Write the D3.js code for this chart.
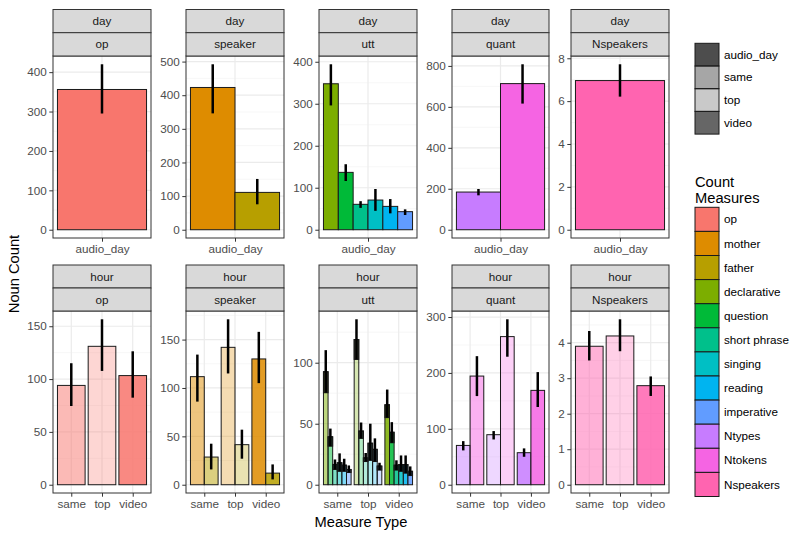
<!DOCTYPE html>
<html>
<head>
<meta charset="utf-8">
<script src="https://cdn.jsdelivr.net/npm/d3@7"></script>
<style>
  body { margin: 0; background: #fff; }
  text { font-family: "Liberation Sans", Arial, sans-serif; }
</style>
</head>
<body>
<svg id="chart" width="800" height="539"></svg>
<script>
// ---------------- DATA ----------------
const measures = ["op","mother","father","declarative","question","short phrase","singing","reading","imperative","Ntypes","Ntokens","Nspeakers"];
const measureColors = ["#F8766D","#DE8C00","#B79F00","#7CAE00","#00BA38","#00C08B","#00BFC4","#00B4F0","#619CFF","#C77CFF","#F564E3","#FF64B0"];
const typeLevels = ["audio_day","same","top","video"];
const typeAlpha = [1, 0.5, 0.3, 0.86];
const timescales = ["day","hour"];
const panelNames = ["op","speaker","utt","quant","Nspeakers"];
const panelMeasures = [["op"],["mother","father"],["declarative","question","short phrase","singing","reading","imperative"],["Ntypes","Ntokens"],["Nspeakers"]];
const dayTypes = ["audio_day"];
const hourTypes = ["same","top","video"];

// day row: [type][measure]
const dayOpMean = [[356]], dayOpLo = [[295]], dayOpHi = [[420]];
const daySpeakerMean = [[423,111]], daySpeakerLo = [[346,75.6]], daySpeakerHi = [[492,151]];
const dayUttMean = [[347.6,136.6,60.5,70.7,55.6,43]];
const dayUttLo = [[296,116,52,45,39,35]];
const dayUttHi = [[394,156,68,97,73,48.5]];
const dayQuantMean = [[184,713.6]], dayQuantLo = [[168,616]], dayQuantHi = [[199,808]];
const dayNspkMean = [[6.96]], dayNspkLo = [[6.21]], dayNspkHi = [[7.72]];

// hour row: [type: same, top, video][measure]
const hourOpMean = [[94],[131],[103.3]];
const hourOpLo = [[74.5],[107.7],[82.4]];
const hourOpHi = [[115],[156.6],[126.3]];
const hourSpeakerMean = [[111.7,28.6],[142,41.4],[130,12]];
const hourSpeakerLo = [[85.9,15.8],[115,26.9],[105,5.5]];
const hourSpeakerHi = [[134.5,42.4],[171,56.9],[158,21]];
const hourUttMean = [[92.6,39.3,16.6,18,16,12.5],[119,44,22,34,29,15.3],[65.5,43,16,16.5,16.5,11]];
const hourUttLo = [[75.4,31.6,12.5,11,11,10],[102.7,38,19,20,19,12],[55,34.4,12,11,9.5,7.5]];
const hourUttHi = [[110.3,46,20.7,25.7,21.3,15.8],[135.6,51,26,50,38,18],[78,51.3,20,24,24,15]];
const hourQuantMean = [[70.3,194.4],[89.5,265],[57.3,168.8]];
const hourQuantLo = [[61.4,158.6],[81,229],[50,139]];
const hourQuantHi = [[78,230],[96,296],[65,201.5]];
const hourNspkMean = [[3.9],[4.19],[2.79]];
const hourNspkLo = [[3.5],[3.76],[2.5]];
const hourNspkHi = [[4.33],[4.66],[3.05]];

// tick labels
const dayTicks = [[0,100,200,300,400],[0,100,200,300,400,500],[0,100,200,300,400],[0,200,400,600,800],[0,2,4,6,8]];
const hourTicks = [[0,50,100,150],[0,50,100,150],[0,50,100],[0,100,200,300],[0,1,2,3,4]];

const dayMeans = [dayOpMean, daySpeakerMean, dayUttMean, dayQuantMean, dayNspkMean];
const dayLos = [dayOpLo, daySpeakerLo, dayUttLo, dayQuantLo, dayNspkLo];
const dayHis = [dayOpHi, daySpeakerHi, dayUttHi, dayQuantHi, dayNspkHi];
const hourMeans = [hourOpMean, hourSpeakerMean, hourUttMean, hourQuantMean, hourNspkMean];
const hourLos = [hourOpLo, hourSpeakerLo, hourUttLo, hourQuantLo, hourNspkLo];
const hourHis = [hourOpHi, hourSpeakerHi, hourUttHi, hourQuantHi, hourNspkHi];

// ---------------- LAYOUT ----------------
const svg = d3.select("#chart");
svg.append("rect").attr("width",800).attr("height",539).attr("fill","#fff");

const colX = [[53,151],[186,284],[319,417],[452,549],[571,669]];
const rows = [
  {stripTop: 9.5, stripMid: 32.7, panelTop: 56, panelBottom: 238},
  {stripTop: 265, stripMid: 288, panelTop: 311, panelBottom: 493}
];
const colorScale = d3.scaleOrdinal().domain(measures).range(measureColors);
const alphaScale = d3.scaleOrdinal().domain(typeLevels).range(typeAlpha);
const FONT = '"Liberation Sans", Arial, sans-serif';

function drawPanel(rowIdx, colIdx, types, means, los, his, ticks, overlay) {
  const row = rows[rowIdx];
  const [x0, x1] = colX[colIdx];
  const ms = panelMeasures[colIdx];
  const g = svg.append("g");
  const n = types.length;
  const R = n - 0.1;
  const x = d3.scaleLinear().domain([0.55 - 0.05 * R, n + 0.45 + 0.05 * R]).range([x0, x1]);
  const maxHi = d3.max(his.flat());
  const y = d3.scaleLinear().domain([-0.05 * maxHi, 1.05 * maxHi]).range([row.panelBottom, row.panelTop]);
  const inner = d3.scaleBand().domain(ms).range([-0.45, 0.45]).padding(0);

  g.append("rect").attr("x", x0).attr("y", row.panelTop).attr("width", x1 - x0)
    .attr("height", row.panelBottom - row.panelTop).attr("fill", "#fff");

  // grid
  const step = ticks[1] - ticks[0];
  const minors = [];
  for (let v = ticks[0] - step / 2; v <= ticks[ticks.length - 1] + step / 2 + 1e-9; v += step) {
    if (v >= y.domain()[0] && v <= y.domain()[1]) minors.push(v);
  }
  g.selectAll(".minor").data(minors).join("line")
    .attr("x1", x0).attr("x2", x1).attr("y1", d => y(d)).attr("y2", d => y(d))
    .attr("stroke", "#F2F2F2").attr("stroke-width", 0.6);
  g.selectAll(".major").data(ticks).join("line")
    .attr("x1", x0).attr("x2", x1).attr("y1", d => y(d)).attr("y2", d => y(d))
    .attr("stroke", "#EBEBEB").attr("stroke-width", 1.2);
  g.selectAll(".vmajor").data(d3.range(1, n + 1)).join("line")
    .attr("x1", d => x(d)).attr("x2", d => x(d)).attr("y1", row.panelTop).attr("y2", row.panelBottom)
    .attr("stroke", "#EBEBEB").attr("stroke-width", 1.2);

  // bars
  const data = [];
  types.forEach((t, ti) => {
    ms.forEach((m, mi) => {
      data.push({t, m, ti, v: means[ti][mi], lo: los[ti][mi], hi: his[ti][mi]});
    });
  });
  const bx = d => x(d.ti + 1 + inner(d.m));
  const bw = x(1 + inner.bandwidth()) - x(1);
  g.selectAll(".bar").data(data).join("rect")
    .attr("x", bx).attr("width", bw)
    .attr("y", d => y(d.v)).attr("height", d => y(0) - y(d.v))
    .attr("fill", d => colorScale(d.m)).attr("fill-opacity", d => alphaScale(d.t))
    .attr("stroke", "#1a1a1a").attr("stroke-width", 1);
  if (overlay) {
    g.selectAll(".ov").data(data).join("rect")
      .attr("x", bx).attr("width", bw)
      .attr("y", d => y(d.v)).attr("height", d => y(d.lo) - y(d.v))
      .attr("fill", "#000").attr("fill-opacity", 0.68)
      .attr("stroke", "#1a1a1a").attr("stroke-width", 1);
  }
  g.selectAll(".err").data(data).join("line")
    .attr("x1", d => bx(d) + bw / 2).attr("x2", d => bx(d) + bw / 2)
    .attr("y1", d => y(d.lo)).attr("y2", d => y(d.hi))
    .attr("stroke", "#000").attr("stroke-width", 2.5);

  g.append("rect").attr("x", x0).attr("y", row.panelTop).attr("width", x1 - x0)
    .attr("height", row.panelBottom - row.panelTop).attr("fill", "none")
    .attr("stroke", "#333").attr("stroke-width", 1);

  // y axis
  const ya = g.append("g").attr("transform", `translate(${x0},0)`)
    .call(d3.axisLeft(y).tickValues(ticks).tickFormat(d3.format("~g")).tickSize(3.7).tickPadding(2.5));
  ya.select(".domain").remove();
  ya.selectAll("line").attr("stroke", "#333");
  ya.selectAll("text").attr("fill", "#4D4D4D").style("font-size", "11.7px").style("font-family", FONT);

  // x axis
  const xa = g.append("g").attr("transform", `translate(0,${row.panelBottom})`)
    .call(d3.axisBottom(x).tickValues(d3.range(1, n + 1)).tickFormat(d => types[d - 1]).tickSize(3.7).tickPadding(2.5));
  xa.select(".domain").remove();
  xa.selectAll("line").attr("stroke", "#333");
  xa.selectAll("text").attr("fill", "#4D4D4D").style("font-size", "11.7px").style("font-family", FONT);

  // strips
  const labels = [timescales[rowIdx], panelNames[colIdx]];
  const strips = [[row.stripTop, row.stripMid], [row.stripMid, row.panelTop]];
  strips.forEach((s, i) => {
    g.append("rect").attr("x", x0).attr("y", s[0]).attr("width", x1 - x0).attr("height", s[1] - s[0])
      .attr("fill", "#D9D9D9").attr("stroke", "#333").attr("stroke-width", 1);
    g.append("text").attr("x", (x0 + x1) / 2).attr("y", (s[0] + s[1]) / 2)
      .attr("dy", "0.35em").attr("text-anchor", "middle").attr("fill", "#1A1A1A")
      .style("font-size", "11.7px").text(labels[i]);
  });
}

panelNames.forEach((p, ci) => {
  drawPanel(0, ci, dayTypes, dayMeans[ci], dayLos[ci], dayHis[ci], dayTicks[ci], false);
  drawPanel(1, ci, hourTypes, hourMeans[ci], hourLos[ci], hourHis[ci], hourTicks[ci], p === "utt");
});

// axis titles
svg.append("text").attr("x", 361).attr("y", 522).attr("dy", "0.35em").attr("text-anchor", "middle")
  .style("font-size", "14.7px").attr("fill", "#000").text("Measure Type");
svg.append("text").attr("transform", "translate(14,274) rotate(-90)").attr("dy", "0.35em")
  .attr("text-anchor", "middle").style("font-size", "14.7px").attr("fill", "#000").text("Noun Count");

// alpha legend
const legX = 695, keyW = 24;
const aStep = 22.7, aTop = 43.3;
const alphaLeg = svg.append("g");
typeLevels.forEach((t, i) => {
  alphaLeg.append("rect").attr("x", legX).attr("y", aTop + i * aStep).attr("width", keyW).attr("height", aStep)
    .attr("fill", "#4D4D4D").attr("fill-opacity", alphaScale(t)).attr("stroke", "#1a1a1a").attr("stroke-width", 1);
  alphaLeg.append("text").attr("x", legX + keyW + 5).attr("y", aTop + i * aStep + aStep / 2).attr("dy", "0.35em")
    .style("font-size", "11.7px").attr("fill", "#000").text(t);
});

// fill legend
const fTop = 207.3, fStep = 24.1;
const fillLeg = svg.append("g");
fillLeg.append("text").attr("x", legX).attr("y", 182).attr("dy", "0.35em").style("font-size", "14.7px").text("Count");
fillLeg.append("text").attr("x", legX).attr("y", 198).attr("dy", "0.35em").style("font-size", "14.7px").text("Measures");
measures.forEach((m, i) => {
  fillLeg.append("rect").attr("x", legX).attr("y", fTop + i * fStep).attr("width", keyW).attr("height", fStep)
    .attr("fill", colorScale(m)).attr("stroke", "#1a1a1a").attr("stroke-width", 1);
  fillLeg.append("text").attr("x", legX + keyW + 5).attr("y", fTop + i * fStep + fStep / 2).attr("dy", "0.35em")
    .style("font-size", "11.7px").attr("fill", "#000").text(m);
});
</script>
</body>
</html>
